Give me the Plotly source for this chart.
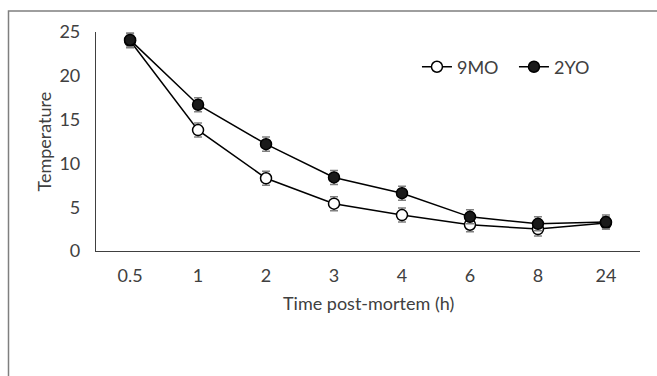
import plotly.graph_objects as go

times = ["0.5", "1", "2", "3", "4", "6", "8", "24"]
mo9 = [24.0, 13.8, 8.3, 5.4, 4.1, 3.0, 2.5, 3.2]
mo9_err = [0.8, 0.8, 0.8, 0.8, 0.8, 0.8, 0.8, 0.7]
yo2 = [24.1, 16.7, 12.2, 8.4, 6.6, 3.9, 3.1, 3.3]
yo2_err = [0.8, 0.8, 0.8, 0.8, 0.8, 0.8, 0.8, 0.8]

FONT = "Lato"
TXT = "#404040"
FS = 18

fig = go.Figure()
fig.add_trace(go.Scatter(
    x=times, y=mo9, name="9MO", mode="lines+markers",
    line=dict(color="black", width=1.5),
    marker=dict(symbol="circle", size=11, color="white", line=dict(color="black", width=1.5)),
    error_y=dict(type="data", array=mo9_err, visible=True, color="#808080", thickness=1.5, width=4),
))
fig.add_trace(go.Scatter(
    x=times, y=yo2, name="2YO", mode="lines+markers",
    line=dict(color="black", width=1.5),
    marker=dict(symbol="circle", size=11, color="#1a1a1a", line=dict(color="black", width=1.5)),
    error_y=dict(type="data", array=yo2_err, visible=True, color="#808080", thickness=1.5, width=4),
))

fig.update_layout(
    width=657, height=376,
    margin=dict(l=96, r=17, t=32, b=124.5),
    plot_bgcolor="white", paper_bgcolor="white",
    font=dict(family=FONT, size=FS, color=TXT),
    showlegend=True,
    legend=dict(orientation="h", x=0.59, y=0.84, xanchor="left", yanchor="middle",
                font=dict(family=FONT, size=FS, color=TXT), bgcolor="rgba(0,0,0,0)",
                itemwidth=30, tracegroupgap=0, entrywidth=52),
    xaxis=dict(type="category", showline=True, linecolor="#404040", linewidth=1.2,
               showgrid=False, ticks="", ticklabelstandoff=8, zeroline=False),
    yaxis=dict(range=[0, 25], dtick=5, showline=True, linecolor="#404040", linewidth=1.2,
               showgrid=False, ticks="", ticklabelstandoff=11, zeroline=False),
    annotations=[
        dict(text="Time post-mortem (h)", xref="paper", yref="paper", x=0.5,
             y=(251.5 - 304) / 219.5, showarrow=False, xanchor="center", yanchor="middle",
             font=dict(family=FONT, size=FS, color=TXT)),
        dict(text="Temperature", xref="paper", yref="paper", x=(43 - 96) / 544, y=0.5,
             textangle=-90, showarrow=False, xanchor="center", yanchor="middle",
             font=dict(family=FONT, size=FS, color=TXT)),
    ],
    shapes=[dict(type="rect", xref="paper", yref="paper",
                 x0=(8.5 - 96) / 544, x1=1.1, y0=-0.7, y1=1 + (32 - 11) / 219.5,
                 line=dict(color="#7f7f7f", width=1.5), fillcolor="rgba(0,0,0,0)", layer="below")],
)

fig.write_html("out.html")
